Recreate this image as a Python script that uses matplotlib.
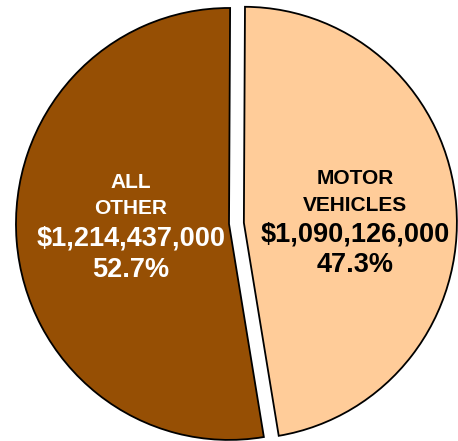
import matplotlib.pyplot as plt

# slice data (motor vehicles first, drawn clockwise from the top)
categories = ["MOTOR\nVEHICLES", "ALL\nOTHER"]
amounts = [1090126000, 1214437000]
shares = [47.3, 52.7]
colors = ["#ffcc99", "#964f04"]
text_colors = ["black", "white"]

plt.rcParams['font.family'] = ['Liberation Sans', 'DejaVu Sans']

fig = plt.figure(figsize=(4.58, 4.41), dpi=100)
ax = fig.add_axes([0, 0, 1, 1])

wedges, _ = ax.pie(shares, colors=colors, startangle=89.7, counterclock=False,
                   explode=[0.07, 0], radius=1.0,
                   wedgeprops=dict(edgecolor='black', linewidth=1.3))
ax.set_aspect('auto')
ax.set_xlim(-1.075, 1.075)
ax.set_ylim(-1.005, 1.037)
ax.axis('off')

# label positions (name block, value block) in data units
label_x = [0.592, -0.46]
name_y = [0.148, 0.132]
value_y = [-0.12, -0.14]

for i in range(len(categories)):
    ax.text(label_x[i], name_y[i], categories[i], ha='center', va='center',
            fontsize=15, fontweight='bold', color=text_colors[i], linespacing=1.48)
    ax.text(label_x[i], value_y[i], f"${amounts[i]:,}\n{shares[i]}%",
            ha='center', va='center', fontsize=19.5, fontweight='bold',
            color=text_colors[i], linespacing=1.26)

fig.savefig("out.png", dpi=100)
